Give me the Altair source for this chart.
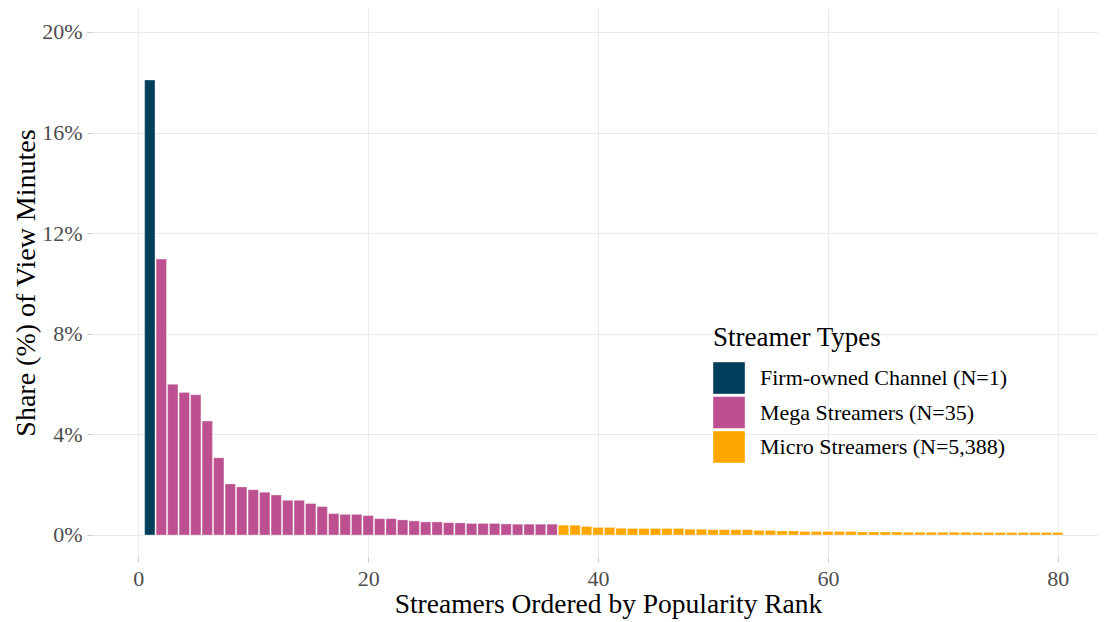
import altair as alt
import pandas as pd

# Ranks shown (top 80 streamers)
ranks = list(range(1, 81))

# Share (%) of view minutes
shares = [
    18.09, 10.97, 5.99, 5.67, 5.58, 4.53, 3.07, 2.03, 1.91, 1.80,
    1.70, 1.59, 1.38, 1.38, 1.25, 1.13, 0.85, 0.82, 0.82, 0.77,
    0.65, 0.65, 0.60, 0.56, 0.52, 0.52, 0.49, 0.48, 0.46, 0.46,
    0.46, 0.44, 0.43, 0.43, 0.43, 0.43, 0.39, 0.39, 0.34, 0.30,
    0.30, 0.27, 0.26, 0.26, 0.26, 0.26, 0.26, 0.23, 0.23, 0.21,
    0.21, 0.21, 0.21, 0.18, 0.18, 0.16, 0.16, 0.14, 0.14, 0.14,
    0.14, 0.14, 0.12, 0.12, 0.12, 0.12, 0.11, 0.11, 0.11, 0.11,
    0.11, 0.11, 0.10, 0.10, 0.10, 0.10, 0.10, 0.10, 0.10, 0.10,
]

# Streamer types and how many of the shown bars belong to each
type_labels = ["Firm-owned Channel (N=1)", "Mega Streamers (N=35)", "Micro Streamers (N=5,388)"]
type_bar_counts = [1, 35, 44]
type_colors = ["#003f5c", "#bc5090", "#ffa600"]

types = []
for lab, n in zip(type_labels, type_bar_counts):
    types += [lab] * n

df = pd.DataFrame({"rank": ranks, "share": shares, "type": types})

FONT = "Liberation Serif"

bars = alt.Chart(df).transform_calculate(
    x0="datum.rank - 0.45", x1="datum.rank + 0.45"
).mark_bar(stroke="white", strokeWidth=0.6, strokeOpacity=0.55).encode(
    x=alt.X(
        "x0:Q",
        scale=alt.Scale(domain=[-4.03, 83.5], nice=False, zero=False),
        axis=alt.Axis(
            values=[0, 20, 40, 60, 80],
            title="Streamers Ordered by Popularity Rank",
            titleX=516, titleY=55, titleBaseline="alphabetic", titleAlign="center",
            titleFontSize=27.5,
            labelPadding=6.5,
            format="d",
        ),
    ),
    x2="x1:Q",
    y=alt.Y(
        "share:Q",
        scale=alt.Scale(domain=[-0.875, 20.954], nice=False, zero=False),
        axis=alt.Axis(
            values=[0, 4, 8, 12, 16, 20],
            labelExpr="datum.value + '%'",
            title="Share (%) of View Minutes",
            titleAngle=-90, titleX=-58, titleY=274.5,
            titleBaseline="alphabetic", titleAlign="center",
            labelPadding=5,
        ),
    ),
    y2=alt.datum(0),
    fill=alt.Fill(
        "type:N",
        scale=alt.Scale(domain=type_labels, range=type_colors),
        legend=alt.Legend(
            title="Streamer Types",
            orient="none", legendX=621, legendY=317,
            symbolType="square", symbolSize=1000, symbolStrokeWidth=0,
            symbolOpacity=1, rowPadding=2.5, labelOffset=15, titlePadding=10,
        ),
    ),
)

chart = bars.properties(
    width=1006, height=549,
    autosize=alt.AutoSizeParams(type="none"),
    padding={"left": 84, "top": 0, "right": 0, "bottom": 62},
    background="white",
).configure_view(stroke=None).configure_axis(
    labelFont=FONT, labelFontSize=22, labelColor="#4d4d4d",
    titleFont=FONT, titleFontSize=28, titleColor="black", titleFontWeight="normal",
    grid=True, gridColor="#ebebeb", gridWidth=1,
    domain=False, ticks=True, tickColor="#cccccc", tickSize=5, tickWidth=1,
).configure_legend(
    titleFont=FONT, titleFontSize=27, titleColor="black", titleFontWeight="normal",
    labelFont=FONT, labelFontSize=22, labelColor="black", labelLimit=400,
)

chart.save("out.html", embed_options={"renderer": "svg", "actions": False})
